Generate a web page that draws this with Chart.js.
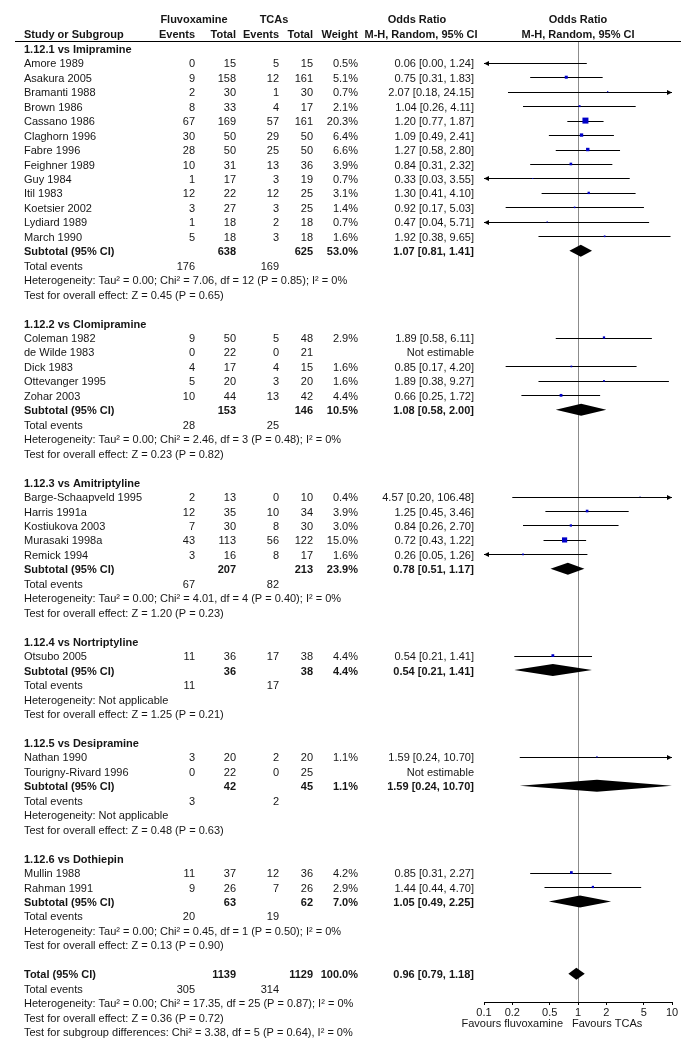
<!DOCTYPE html>
<html>
<head>
<meta charset="utf-8">
<script src="https://cdn.jsdelivr.net/npm/chart.js@4.4.1/dist/chart.umd.min.js"></script>
<style>
  html, body { margin: 0; padding: 0; background: #fff; }
  #wrap { width: 688px; height: 1048px; }
</style>
</head>
<body>
<div id="wrap"><canvas id="forest" width="688" height="1048"></canvas></div>
<script>
// subgroups
const groupTitles = ['1.12.1 vs Imipramine', '1.12.2 vs Clomipramine', '1.12.3 vs Amitriptyline',
  '1.12.4 vs Nortriptyline', '1.12.5 vs Desipramine', '1.12.6 vs Dothiepin'];
const groupSizes = [13, 5, 5, 1, 2, 2];

// studies, in plot order (null = not estimable)
const studyNames = ['Amore 1989', 'Asakura 2005', 'Bramanti 1988', 'Brown 1986', 'Cassano 1986', 'Claghorn 1996',
  'Fabre 1996', 'Feighner 1989', 'Guy 1984', 'Itil 1983', 'Koetsier 2002', 'Lydiard 1989', 'March 1990',
  'Coleman 1982', 'de Wilde 1983', 'Dick 1983', 'Ottevanger 1995', 'Zohar 2003',
  'Barge-Schaapveld 1995', 'Harris 1991a', 'Kostiukova 2003', 'Murasaki 1998a', 'Remick 1994',
  'Otsubo 2005',
  'Nathan 1990', 'Tourigny-Rivard 1996',
  'Mullin 1988', 'Rahman 1991'];
const fluvoxEvents = [0, 9, 2, 8, 67, 30, 28, 10, 1, 12, 3, 1, 5, 9, 0, 4, 5, 10, 2, 12, 7, 43, 3, 11, 3, 0, 11, 9];
const fluvoxTotals = [15, 158, 30, 33, 169, 50, 50, 31, 17, 22, 27, 18, 18, 50, 22, 17, 20, 44, 13, 35, 30, 113, 16, 36, 20, 22, 37, 26];
const tcaEvents = [5, 12, 1, 4, 57, 29, 25, 13, 3, 12, 3, 2, 3, 5, 0, 4, 3, 13, 0, 10, 8, 56, 8, 17, 2, 0, 12, 7];
const tcaTotals = [15, 161, 30, 17, 161, 50, 50, 36, 19, 25, 25, 18, 18, 48, 21, 15, 20, 42, 10, 34, 30, 122, 17, 38, 20, 25, 36, 26];
const studyWeights = [0.5, 5.1, 0.7, 2.1, 20.3, 6.4, 6.6, 3.9, 0.7, 3.1, 1.4, 0.7, 1.6, 2.9, null, 1.6, 1.6, 4.4,
  0.4, 3.9, 3.0, 15.0, 1.6, 4.4, 1.1, null, 4.2, 2.9];
const studyOR = [0.06, 0.75, 2.07, 1.04, 1.20, 1.09, 1.27, 0.84, 0.33, 1.30, 0.92, 0.47, 1.92, 1.89, null, 0.85, 1.89, 0.66,
  4.57, 1.25, 0.84, 0.72, 0.26, 0.54, 1.59, null, 0.85, 1.44];
const studyLower = [0.00, 0.31, 0.18, 0.26, 0.77, 0.49, 0.58, 0.31, 0.03, 0.41, 0.17, 0.04, 0.38, 0.58, null, 0.17, 0.38, 0.25,
  0.20, 0.45, 0.26, 0.43, 0.05, 0.21, 0.24, null, 0.31, 0.44];
const studyUpper = [1.24, 1.83, 24.15, 4.11, 1.87, 2.41, 2.80, 2.32, 3.55, 4.10, 5.03, 5.71, 9.65, 6.11, null, 4.20, 9.27, 1.72,
  106.48, 3.46, 2.70, 1.22, 1.26, 1.41, 10.70, null, 2.27, 4.70];

// subtotals per subgroup
const subFluvoxTotals = [638, 153, 207, 36, 42, 63];
const subTcaTotals = [625, 146, 213, 38, 45, 62];
const subWeights = [53.0, 10.5, 23.9, 4.4, 1.1, 7.0];
const subOR = [1.07, 1.08, 0.78, 0.54, 1.59, 1.05];
const subLower = [0.81, 0.58, 0.51, 0.21, 0.24, 0.49];
const subUpper = [1.41, 2.00, 1.17, 1.41, 10.70, 2.25];
const subFluvoxEvents = [176, 28, 67, 11, 3, 20];
const subTcaEvents = [169, 25, 82, 17, 2, 19];
const subHeterogeneity = [
  'Heterogeneity: Tau² = 0.00; Chi² = 7.06, df = 12 (P = 0.85); I² = 0%',
  'Heterogeneity: Tau² = 0.00; Chi² = 2.46, df = 3 (P = 0.48); I² = 0%',
  'Heterogeneity: Tau² = 0.00; Chi² = 4.01, df = 4 (P = 0.40); I² = 0%',
  'Heterogeneity: Not applicable',
  'Heterogeneity: Not applicable',
  'Heterogeneity: Tau² = 0.00; Chi² = 0.45, df = 1 (P = 0.50); I² = 0%'];
const subEffectTests = [
  'Test for overall effect: Z = 0.45 (P = 0.65)',
  'Test for overall effect: Z = 0.23 (P = 0.82)',
  'Test for overall effect: Z = 1.20 (P = 0.23)',
  'Test for overall effect: Z = 1.25 (P = 0.21)',
  'Test for overall effect: Z = 0.48 (P = 0.63)',
  'Test for overall effect: Z = 0.13 (P = 0.90)'];

// overall
const overallTotals = [1139, 1129];
const overallWeight = 100.0;
const overallOR = [0.96, 0.79, 1.18];
const overallEvents = [305, 314];
const overallNotes = [
  'Heterogeneity: Tau² = 0.00; Chi² = 17.35, df = 25 (P = 0.87); I² = 0%',
  'Test for overall effect: Z = 0.36 (P = 0.72)',
  'Test for subgroup differences: Chi² = 3.38, df = 5 (P = 0.64), I² = 0%'];

// axis
const tickValues = [0.1, 0.2, 0.5, 1, 2, 5, 10];
const tickLabels = ['0.1', '0.2', '0.5', '1', '2', '5', '10'];
const favourLabels = ['Favours fluvoxamine', 'Favours TCAs'];

// ---- layout ----
const FONT = '"Liberation Sans", Arial, sans-serif';
const FS = 11;
const TXT = '#161616';
const ROW_H = 14.46;
const FIRST_ROW_Y = 48.3;   // pixel of row 0 marks
const TOP = 42, BOTTOM = 1002;
const yMin = -(FIRST_ROW_Y - TOP) / ROW_H;
const yMax = yMin + (BOTTOM - TOP) / ROW_H;
const col = { name: 24, e1: 195, n1: 236, e2: 279, n2: 313, w: 358, or: 474 };

// rows of the table, top to bottom
const rows = [];
let si = 0;
groupTitles.forEach((title, g) => {
  rows.push({ kind: 'heading', text: title });
  for (let k = 0; k < groupSizes[g]; k++, si++) rows.push({ kind: 'study', i: si });
  rows.push({ kind: 'subtotal', g });
  rows.push({ kind: 'events', a: subFluvoxEvents[g], b: subTcaEvents[g] });
  rows.push({ kind: 'note', text: subHeterogeneity[g] });
  rows.push({ kind: 'note', text: subEffectTests[g] });
  rows.push({ kind: 'blank' });
});
rows.push({ kind: 'total' });
rows.push({ kind: 'events', a: overallEvents[0], b: overallEvents[1] });
overallNotes.forEach(t => rows.push({ kind: 'note', text: t }));

const studyRow = [];
rows.forEach((r, idx) => { if (r.kind === 'study') studyRow[r.i] = idx; });
const subRow = [];
rows.forEach((r, idx) => { if (r.kind === 'subtotal') subRow[r.g] = idx; });
const totalRow = rows.findIndex(r => r.kind === 'total');

const points = [];
const sizes = [];
studyNames.forEach((n, i) => {
  if (studyOR[i] === null) return;
  points.push({ x: studyOR[i], y: studyRow[i] });
  // square area ~ weight
  sizes.push(Math.max(0.8, 6 * Math.sqrt(studyWeights[i] / 20.3)) / Math.SQRT2);
});

const fmt = v => v.toFixed(2);
const ciText = (o, l, u) => `${fmt(o)} [${fmt(l)}, ${fmt(u)}]`;

function text(ctx, s, x, y, align, bold) {
  ctx.font = `${bold ? 'bold ' : ''}${FS}px ${FONT}`;
  ctx.textAlign = align;
  ctx.fillText(s, x, y);
}

const forestPlugin = {
  id: 'forest',
  beforeDatasetsDraw(chart) {
    const { ctx, chartArea, scales: { x, y } } = chart;
    const lo = x.min, hi = x.max;
    ctx.save();
    // confidence intervals
    ctx.strokeStyle = '#000';
    ctx.fillStyle = '#000';
    ctx.lineWidth = 1;
    studyNames.forEach((n, i) => {
      if (studyOR[i] === null) return;
      const py = Math.round(y.getPixelForValue(studyRow[i])) + 0.5;
      const x1 = x.getPixelForValue(Math.max(studyLower[i], lo));
      const x2 = x.getPixelForValue(Math.min(studyUpper[i], hi));
      ctx.beginPath();
      ctx.moveTo(x1, py);
      ctx.lineTo(x2, py);
      ctx.stroke();
      if (studyLower[i] < lo) {
        ctx.beginPath();
        ctx.moveTo(x1, py); ctx.lineTo(x1 + 5, py - 2.5); ctx.lineTo(x1 + 5, py + 2.5);
        ctx.closePath(); ctx.fill();
      }
      if (studyUpper[i] > hi) {
        ctx.beginPath();
        ctx.moveTo(x2, py); ctx.lineTo(x2 - 5, py - 2.5); ctx.lineTo(x2 - 5, py + 2.5);
        ctx.closePath(); ctx.fill();
      }
    });
    // pooled diamonds
    const diamond = (row, o, l, u) => {
      const py = y.getPixelForValue(row);
      const xl = x.getPixelForValue(Math.max(l, lo));
      const xr = x.getPixelForValue(Math.min(u, hi));
      const xc = x.getPixelForValue(o);
      ctx.beginPath();
      ctx.moveTo(xl, py); ctx.lineTo(xc, py - 6); ctx.lineTo(xr, py); ctx.lineTo(xc, py + 6);
      ctx.closePath(); ctx.fill();
    };
    subOR.forEach((o, g) => diamond(subRow[g], o, subLower[g], subUpper[g]));
    diamond(totalRow, overallOR[0], overallOR[1], overallOR[2]);
    ctx.restore();
  },
  afterDraw(chart) {
    const { ctx, scales: { x, y } } = chart;
    ctx.save();
    ctx.fillStyle = TXT;
    ctx.textBaseline = 'middle';
    const cx = x.getPixelForValue(1);
    // headers
    text(ctx, 'Fluvoxamine', 194, 20, 'center', true);
    text(ctx, 'TCAs', 274, 20, 'center', true);
    text(ctx, 'Odds Ratio', 417, 20, 'center', true);
    text(ctx, 'Odds Ratio', cx, 20, 'center', true);
    text(ctx, 'Study or Subgroup', col.name, 34.5, 'left', true);
    text(ctx, 'Events', col.e1, 34.5, 'right', true);
    text(ctx, 'Total', col.n1, 34.5, 'right', true);
    text(ctx, 'Events', col.e2, 34.5, 'right', true);
    text(ctx, 'Total', col.n2, 34.5, 'right', true);
    text(ctx, 'Weight', col.w, 34.5, 'right', true);
    text(ctx, 'M-H, Random, 95% CI', 421, 34.5, 'center', true);
    text(ctx, 'M-H, Random, 95% CI', cx, 34.5, 'center', true);
    ctx.strokeStyle = '#000';
    ctx.lineWidth = 1;
    ctx.beginPath();
    ctx.moveTo(15, 41.5); ctx.lineTo(681, 41.5);
    ctx.stroke();

    rows.forEach((r, idx) => {
      const ty = y.getPixelForValue(idx) + 1.5;
      if (r.kind === 'heading') {
        text(ctx, r.text, col.name, ty, 'left', true);
      } else if (r.kind === 'study') {
        const i = r.i;
        text(ctx, studyNames[i], col.name, ty, 'left');
        text(ctx, String(fluvoxEvents[i]), col.e1, ty, 'right');
        text(ctx, String(fluvoxTotals[i]), col.n1, ty, 'right');
        text(ctx, String(tcaEvents[i]), col.e2, ty, 'right');
        text(ctx, String(tcaTotals[i]), col.n2, ty, 'right');
        if (studyWeights[i] !== null) text(ctx, studyWeights[i].toFixed(1) + '%', col.w, ty, 'right');
        text(ctx, studyOR[i] === null ? 'Not estimable' : ciText(studyOR[i], studyLower[i], studyUpper[i]), col.or, ty, 'right');
      } else if (r.kind === 'subtotal') {
        const g = r.g;
        text(ctx, 'Subtotal (95% CI)', col.name, ty, 'left', true);
        text(ctx, String(subFluvoxTotals[g]), col.n1, ty, 'right', true);
        text(ctx, String(subTcaTotals[g]), col.n2, ty, 'right', true);
        text(ctx, subWeights[g].toFixed(1) + '%', col.w, ty, 'right', true);
        text(ctx, ciText(subOR[g], subLower[g], subUpper[g]), col.or, ty, 'right', true);
      } else if (r.kind === 'total') {
        text(ctx, 'Total (95% CI)', col.name, ty, 'left', true);
        text(ctx, String(overallTotals[0]), col.n1, ty, 'right', true);
        text(ctx, String(overallTotals[1]), col.n2, ty, 'right', true);
        text(ctx, overallWeight.toFixed(1) + '%', col.w, ty, 'right', true);
        text(ctx, ciText(overallOR[0], overallOR[1], overallOR[2]), col.or, ty, 'right', true);
      } else if (r.kind === 'events') {
        text(ctx, 'Total events', col.name, ty, 'left');
        text(ctx, String(r.a), col.e1, ty, 'right');
        text(ctx, String(r.b), col.e2, ty, 'right');
      } else if (r.kind === 'note') {
        text(ctx, r.text, col.name, ty, 'left');
      }
    });

    // favours labels under the axis
    text(ctx, favourLabels[0], cx - 15, 1024, 'right');
    text(ctx, favourLabels[1], cx - 6, 1024, 'left');
    ctx.restore();
  }
};

const ctx = document.getElementById('forest').getContext('2d');

const forestChart = new Chart(ctx, {
  type: 'scatter',
  data: {
    datasets: [{
      label: 'Studies',
      data: points,
      pointStyle: 'rect',
      pointRadius: sizes,
      pointHoverRadius: sizes,
      backgroundColor: '#0000c8',
      borderWidth: 0
    }]
  },
  options: {
    responsive: false,
    animation: false,
    layout: { padding: { left: 484, right: 16, top: TOP, bottom: 1048 - BOTTOM - 30 } },
    plugins: {
      legend: { display: false },
      tooltip: { enabled: false }
    },
    scales: {
      x: {
        type: 'logarithmic',
        min: 0.1,
        max: 10,
        afterBuildTicks: (axis) => { axis.ticks = tickValues.map(v => ({ value: v })); },
        afterFit: (axis) => { axis.height = 30; },
        ticks: {
          autoSkip: false,
          maxRotation: 0,
          padding: 1,
          color: TXT,
          font: { family: FONT, size: FS },
          callback: (value, index) => tickLabels[index]
        },
        grid: {
          drawOnChartArea: true,
          color: (c) => (c.tick && c.tick.value === 1 ? '#8c8c8c' : 'rgba(0,0,0,0)'),
          tickColor: '#000',
          tickLength: 3
        },
        border: { display: true, color: '#000', width: 1 }
      },
      y: {
        type: 'linear',
        display: false,
        reverse: true,
        min: yMin,
        max: yMax
      }
    }
  },
  plugins: [forestPlugin]
});
</script>
</body>
</html>
